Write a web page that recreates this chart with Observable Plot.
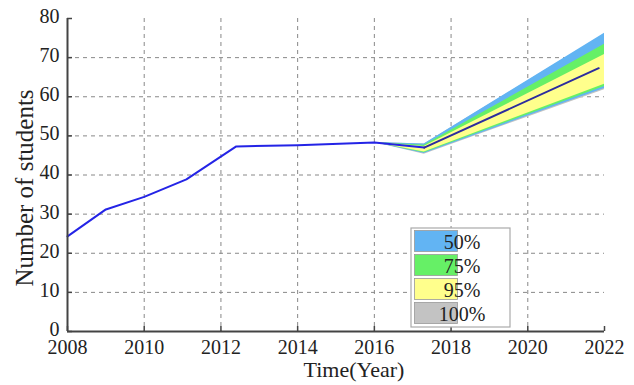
<!DOCTYPE html>
<html><head><meta charset="utf-8">
<script src="https://cdn.jsdelivr.net/npm/d3@7"></script>
<script src="https://cdn.jsdelivr.net/npm/@observablehq/plot@0.6"></script>
<style>
body{margin:0;background:#fff;}
#chart{width:634px;height:385px;}
#chart svg, #chart svg text{font-family:"Liberation Serif","Times New Roman",serif !important;}
</style></head>
<body><div id="chart"></div>
<script>
// Historical series
const histYears = [2008, 2009, 2010, 2011.1, 2012.4, 2014, 2016, 2017.3];
const histValues = [24.3, 31.2, 34.4, 38.9, 47.3, 47.6, 48.3, 47.0];
// Forecast median
const fcYears = [2017.3, 2021.85];
const fcValues = [47.0, 67.3];
// Forecast bands (x positions shared)
const bandYears = [2016, 2017.3, 2022];
const grayLo = [48.3, 45.3, 61.8], grayHi = [48.3, 47.9, 76.0];
const blueLo = [48.3, 45.5, 62.1], blueHi = [48.3, 47.9, 76.2];
const greenLo = [48.3, 45.7, 62.6], greenHi = [48.3, 47.6, 73.4];
const yellowLo = [48.3, 45.9, 63.2], yellowHi = [48.3, 47.3, 70.8];
const legendLabels = ["50%", "75%", "95%", "100%"];
const legendColors = ["#62b4f3", "#66f066", "#ffff8c", "#c3c3c3"];
const xTicks = [2008, 2010, 2012, 2014, 2016, 2018, 2020, 2022];
const yTicks = [0, 10, 20, 30, 40, 50, 60, 70, 80];

const band = (lo, hi) => bandYears.map((x, i) => ({x, lo: lo[i], hi: hi[i]}));
const hist = histYears.map((x, i) => ({x, y: histValues[i]}));
const fc = fcYears.map((x, i) => ({x, y: fcValues[i]}));

const W = 634, H = 385, mL = 67, mR = 30, mT = 18, mB = 54;
const font = "Liberation Serif";

const plot = Plot.plot({
  width: W, height: H,
  marginLeft: mL, marginRight: mR, marginTop: mT, marginBottom: mB,
  style: {fontFamily: font, background: "#fff", color: "#222"},
  x: {domain: [2008, 2022], ticks: xTicks, tickFormat: "d"},
  y: {domain: [0, 80], ticks: yTicks},
  marks: [
    Plot.gridX(xTicks.slice(1, -1), {stroke: "#888", strokeOpacity: 1, strokeDasharray: "4,4", strokeWidth: 1}),
    Plot.gridY(yTicks.slice(1, -1), {stroke: "#888", strokeOpacity: 1, strokeDasharray: "4,4", strokeWidth: 1}),
    Plot.areaY(band(grayLo, grayHi), {x: "x", y1: "lo", y2: "hi", fill: legendColors[3]}),
    Plot.areaY(band(blueLo, blueHi), {x: "x", y1: "lo", y2: "hi", fill: legendColors[0]}),
    Plot.areaY(band(greenLo, greenHi), {x: "x", y1: "lo", y2: "hi", fill: legendColors[1]}),
    Plot.areaY(band(yellowLo, yellowHi), {x: "x", y1: "lo", y2: "hi", fill: legendColors[2]}),
    Plot.line(hist, {x: "x", y: "y", stroke: "#2424e6", strokeWidth: 2}),
    Plot.line(fc, {x: "x", y: "y", stroke: "#2c2c9e", strokeWidth: 2}),
    Plot.ruleX(xTicks, {x: d => d, y1: 0, y2: 0, insetTop: -5, stroke: "#444", strokeWidth: 1.5}),
    Plot.ruleY(yTicks, {y: d => d, x1: 2008, x2: 2008, insetRight: -5, stroke: "#444", strokeWidth: 1.5}),
    Plot.ruleX([2008], {y1: 0, y2: 80, stroke: "#444", strokeWidth: 2}),
    Plot.ruleY([0], {x1: 2008, x2: 2022, stroke: "#444", strokeWidth: 2}),
    Plot.axisX(xTicks, {tickSize: 0, tickPadding: 8, tickFormat: "d", fontSize: 20, fontFamily: font, label: null, fill: "#222"}),
    Plot.axisY(yTicks, {tickSize: 0, tickPadding: 8, dy: -2, fontSize: 20, fontFamily: font, label: null, fill: "#222"})
  ]
});

const svg = d3.select(plot);
svg.append("text").attr("transform", "translate(33,188) rotate(-90)")
  .attr("text-anchor", "middle").attr("font-size", 25).attr("fill", "#222")
  .text("Number of students");
svg.append("text").attr("x", 354).attr("y", 377)
  .attr("text-anchor", "middle").attr("font-size", 22).attr("fill", "#222")
  .text("Time(Year)");

// Legend
const lg = svg.append("g").attr("transform", "translate(411,228)");
lg.append("rect").attr("width", 99).attr("height", 99).attr("fill", "#fff").attr("stroke", "#aaa").attr("stroke-width", 1.2);
legendLabels.forEach((t, i) => {
  lg.append("rect").attr("x", 3.5).attr("y", 2.5 + i * 24).attr("width", 43).attr("height", 21)
    .attr("fill", legendColors[i]).attr("stroke", "#999").attr("stroke-width", 0.8);
  lg.append("text").attr("x", 51).attr("y", 14 + i * 24).attr("dy", "0.35em")
    .attr("font-size", 20).attr("fill", "#222").text(t);
});

document.getElementById("chart").appendChild(plot);
</script></body></html>
